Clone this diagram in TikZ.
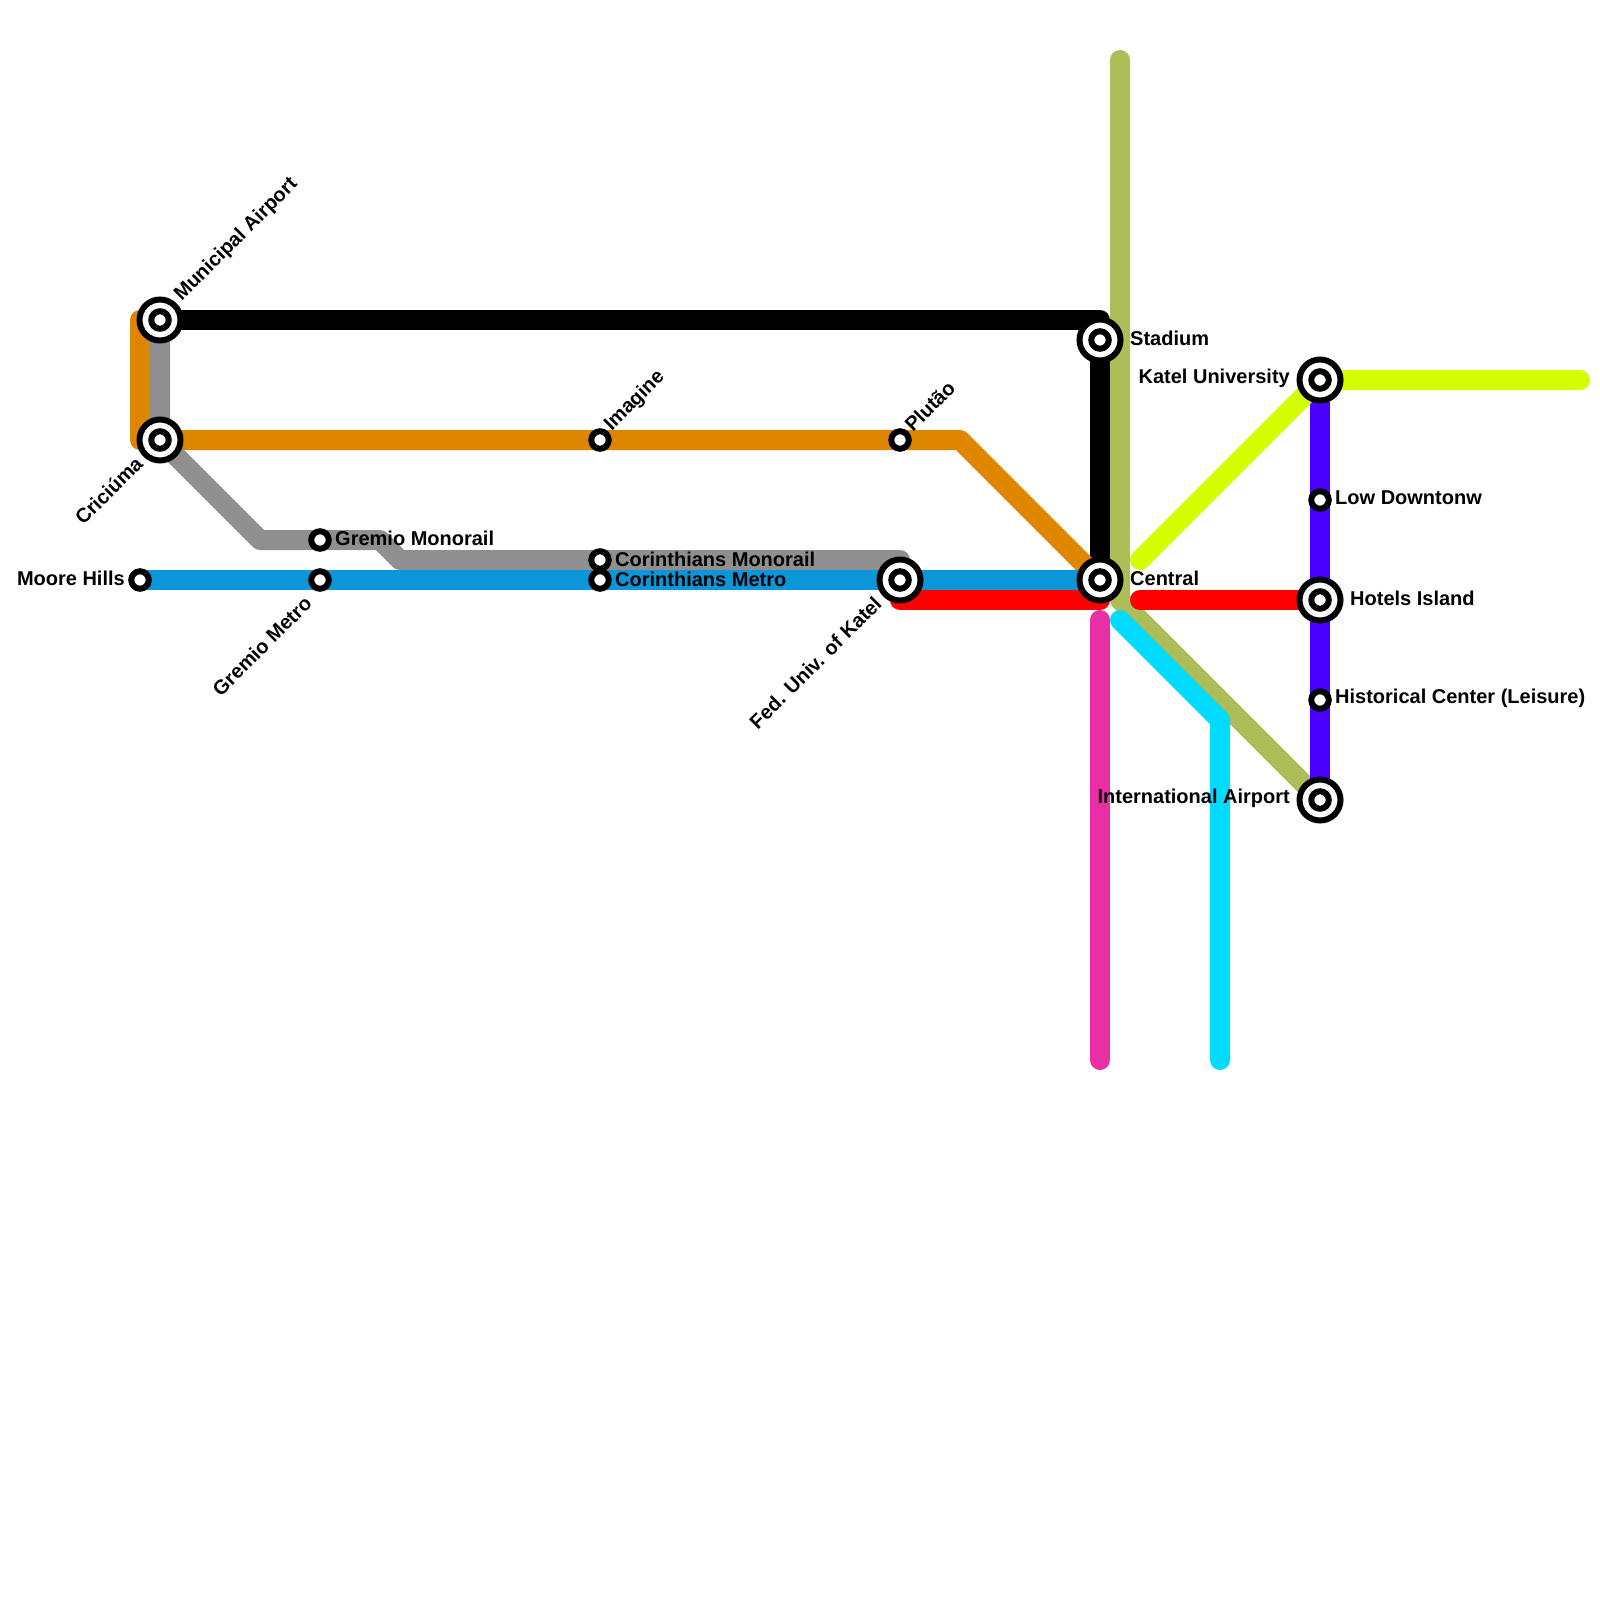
\documentclass[tikz,border=0pt]{standalone}
\usepackage{xcolor}
\usepackage{fontspec}
\setmainfont{Liberation Sans}
\usetikzlibrary{backgrounds}

\definecolor{lineorange}{HTML}{DF8600}
\definecolor{linegray}{HTML}{8F8F8F}
\definecolor{lineblue}{HTML}{0A96D8}
\definecolor{linered}{HTML}{FF0000}
\definecolor{linepink}{HTML}{E92EA6}
\definecolor{lineolive}{HTML}{ADBD57}
\definecolor{linecyan}{HTML}{00DCFF}
\definecolor{linelime}{HTML}{D4FF00}
\definecolor{linepurple}{HTML}{4B00FF}

\begin{document}
\begin{tikzpicture}[
    x=1pt, y=-1pt,
    stn/.style={draw, circle, line width=6pt, fill=white, inner sep=0pt, minimum size=17.5pt},
    hub/.style={draw, circle, line width=6pt, fill=white, inner sep=0pt, minimum size=41pt},
    lbl/.style={inner sep=0pt, font=\bfseries\fontsize{20}{20}\selectfont},
    track/.style={line width=20pt, line cap=round, line join=round}
]
    \useasboundingbox (0,0) rectangle (1600,1600);

    % big stations
    \node[hub] at (160,320) {};
    \node[hub] at (160,440) {};
    \node[hub] at (900,580) {};
    \node[hub] at (1100,340) {};
    \node[hub] at (1100,580) {};
    \node[hub] at (1320,380) {};
    \node[hub] at (1320,600) {};
    \node[hub] at (1320,800) {};

    % stations
    \node[stn] (municipal) at (160,320) {};
    \node[stn] (criciuma) at (160,440) {};
    \node[stn] (moore) at (140,580) {};
    \node[stn] (gremiomono) at (320,540) {};
    \node[stn] (gremiometro) at (320,580) {};
    \node[stn] (imagine) at (600,440) {};
    \node[stn] (corinthiansmono) at (600,560) {};
    \node[stn] (corinthiansmetro) at (600,580) {};
    \node[stn] (plutao) at (900,440) {};
    \node[stn] (feduniv) at (900,580) {};
    \node[stn] (stadium) at (1100,340) {};
    \node[stn] (central) at (1100,580) {};
    \node[stn] (katel) at (1320,380) {};
    \node[stn] (lowdown) at (1320,500) {};
    \node[stn] (hotels) at (1320,600) {};
    \node[stn] (historical) at (1320,700) {};
    \node[stn] (intl) at (1320,800) {};

    % labels
    \node[lbl, rotate=45, anchor=west] at (178,298) {Municipal Airport};
    \node[lbl, rotate=45, anchor=east] at (139,460) {Criciúma};
    \node[lbl, anchor=east] at (125,578) {Moore Hills};
    \node[lbl, anchor=west] at (335,538) {Gremio Monorail};
    \node[lbl, rotate=45, anchor=east] at (308,600) {Gremio Metro};
    \node[lbl, rotate=45, anchor=west] at (608,428) {Imagine};
    \node[lbl, anchor=west] at (615,559) {Corinthians Monorail};
    \node[lbl, anchor=west] at (615,579) {Corinthians Metro};
    \node[lbl, rotate=45, anchor=west] at (908,428) {Plutão};
    \node[lbl, rotate=45, anchor=east] at (878,600) {Fed. Univ. of Katel};
    \node[lbl, anchor=west] at (1130,338) {Stadium};
    \node[lbl, anchor=west] at (1130,578) {Central};
    \node[lbl, anchor=east] at (1290,378) {Katel University};
    \node[lbl, anchor=west] at (1335,498) {Low Downtonw};
    \node[lbl, anchor=west] at (1350,598) {Hotels Island};
    \node[lbl, anchor=west] at (1335,698) {Historical Center (Leisure)};
    \node[lbl, anchor=east] at (1290,798) {International Airport};

    \begin{scope}[on background layer]
        \draw[track, lineolive] (1120,60) -- (1120,600) -- (intl.center);
        \draw[track, black] (municipal.center) -- (1100,320) -- (central.center);
        \draw[track, lineorange] (municipal.center) -- (140,320) -- (140,440) -- (960,440) -- (central.center);
        \draw[track, linegray] (municipal.center) -- (criciuma.center) -- (260,540) -- (380,540) -- (400,560) -- (900,560);
        \draw[track, linered] (900,600) -- (1100,600);
        \draw[track, lineblue] (moore.center) -- (central.center);
        \draw[track, linered] (1140,600) -- (hotels.center);
        \draw[track, linepink] (1100,620) -- (1100,1060);
        \draw[track, linecyan] (1120,620) -- (1220,720) -- (1220,1060);
        \draw[track, linepurple] (katel.center) -- (intl.center);
        \draw[track, linelime] (1140,560) -- (katel.center) -- (1580,380);
    \end{scope}
\end{tikzpicture}
\end{document}
